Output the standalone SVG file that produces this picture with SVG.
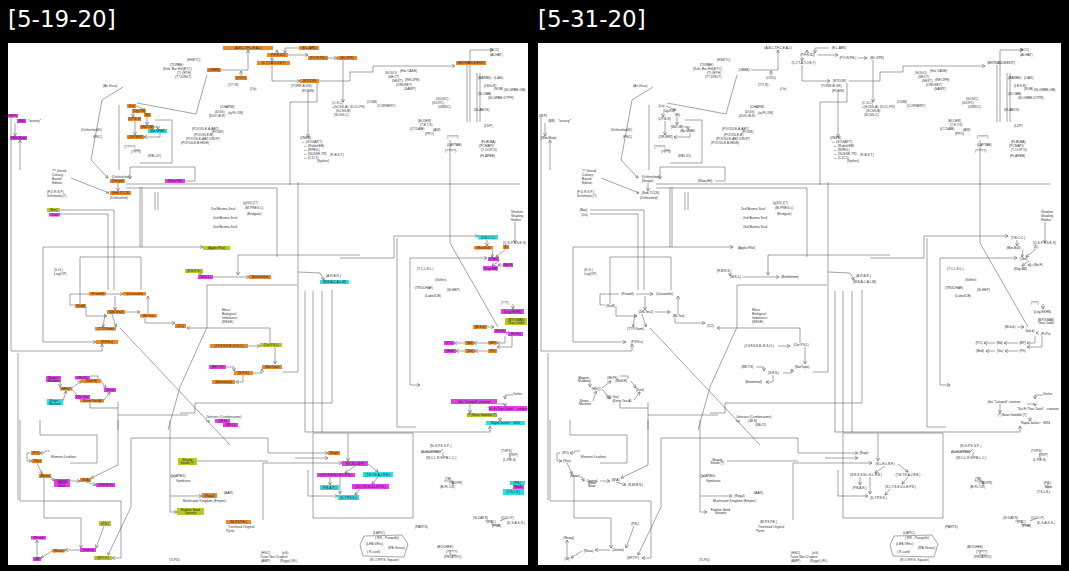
<svg xmlns="http://www.w3.org/2000/svg" xmlns:xlink="http://www.w3.org/1999/xlink" width="1069" height="571" viewBox="0 0 1069 571">
<style>
.ln{fill:none;stroke:#666;stroke-width:0.6}
.ar{marker-end:url(#ah)}
.t{font-family:"Liberation Sans",Arial,sans-serif;font-size:3.3px;fill:#333}
.b{font-family:"Liberation Sans",Arial,sans-serif;font-size:3.2px;fill:#222;text-anchor:middle}
.ttl{font-family:"DejaVu Sans",sans-serif;font-size:23px;fill:#fff}
.o{fill:var(--o)}.m{fill:var(--m)}.c{fill:var(--c)}.y{fill:var(--y)}
.hl{--o:#E98A2C;--m:#E040E8;--c:#2FDDE3;--y:#B8C82A}
.pl{--o:transparent;--m:transparent;--c:transparent;--y:transparent}
</style>
<defs>
<marker id="ah" viewBox="0 0 6 6" refX="5.5" refY="3" markerWidth="3.5" markerHeight="3.5" markerUnits="userSpaceOnUse" orient="auto"><path d="M0,0 L6,3 L0,6" fill="none" stroke="#555" stroke-width="0.9"/></marker>
<g id="chart">
<g id="connectors">
<path class="ln ar" d="M248,70 V50"/>
<path class="ln" d="M221,70 H248"/>
<path class="ln ar" d="M241,76 V71"/>
<path class="ln ar" d="M277,53 V50"/>
<path class="ln ar" d="M272,57 V61"/>
<path class="ln ar" d="M288,55 H308"/>
<path class="ln ar" d="M328,58 H337"/>
<path class="ln ar" d="M299,48 H285 V53"/>
<path class="ln ar" d="M272,65 V81 H300"/>
<path class="ln ar" d="M319,81 H350 V72 H373 V66 H455"/>
<path class="ln" d="M317,83 V102 H290 V185"/>
<path class="ln ar" d="M308,90 V137"/>
<path class="ln ar" d="M343,60 V102"/>
<path class="ln ar" d="M470,122 V50 H493"/>
<path class="ln" d="M467,65 V122 M477,73 V122 M480,73 V122"/>
<path class="ln" d="M450,140 V243 L498,327"/>
<path class="ln ar" d="M123,87 L102,100 L91,160 L108,178"/>
<path class="ln" d="M137,103 L196,114 L207,75"/>
<path class="ln" d="M119,105 V170 M155,120 H172 V163 H140"/>
<path class="ln ar" d="M136,106 L146,110"/>
<path class="ln ar" d="M133,113 V117"/>
<path class="ln ar" d="M147,117 V125"/>
<path class="ln ar" d="M154,127 H158 V129"/>
<path class="ln ar" d="M135,121 V135"/>
<path class="ln ar" d="M160,133 V137 H144"/>
<path class="ln" d="M11,117 V351 H102"/>
<path class="ln ar" d="M102,351 V344"/>
<path class="ln ar" d="M20,170 V140"/>
<path class="ln ar" d="M15,123 V136"/>
<path class="ln" d="M18,353 V500"/>
<path class="ln" d="M126,184 H520"/>
<path class="ln" d="M126,188 H277 V257"/>
<path class="ln ar" d="M71,178 L109,193"/>
<path class="ln ar" d="M118,183 V191"/>
<path class="ln ar" d="M185,181 H195 V167 H130 V179"/>
<path class="ln" d="M140,187 V247 M142,187 V247"/>
<path class="ln" d="M155,192 V210 M158,192 V210"/>
<path class="ln" d="M60,210 H114 V290 M60,214 H108 V290"/>
<path class="ln ar" d="M43,247 H203"/>
<path class="ln ar" d="M43,247 V342 H96"/>
<path class="ln" d="M80,257 H141 V290"/>
<path class="ln" d="M80,257 V304"/>
<path class="ln" d="M298,182 V372 H283"/>
<path class="ln ar" d="M238,255 H360 M238,255 V275"/>
<path class="ln" d="M297,285 H207 V327 L180,387 L168,430"/>
<path class="ln" d="M120,328 L230,445"/>
<path class="ln ar" d="M305,291 V432 H490 V426"/>
<path class="ln" d="M313,291 V432 M322,291 V432"/>
<path class="ln" d="M332,290 V403 H195 V413 H180"/>
<path class="ln ar" d="M270,343 V328 H187"/>
<path class="ln ar" d="M248,346 H260"/>
<path class="ln ar" d="M275,347 V364"/>
<path class="ln ar" d="M226,367 H234 V371"/>
<path class="ln ar" d="M253,373 H262 V369"/>
<path class="ln ar" d="M243,375 V382 H236"/>
<path class="ln ar" d="M213,277 H249"/>
<path class="ln ar" d="M200,273 V276"/>
<path class="ln ar" d="M298,272 L320,273 L324,280"/>
<path class="ln ar" d="M340,258 H394 V236 H478"/>
<path class="ln" d="M397,238 V427 H416"/>
<path class="ln ar" d="M410,290 V258 H487"/>
<path class="ln ar" d="M410,290 V385 H420"/>
<path class="ln ar" d="M515,222 V243"/>
<path class="ln ar" d="M487,240 V246"/>
<path class="ln ar" d="M493,250 L492,257"/>
<path class="ln ar" d="M506,249 L496,257"/>
<path class="ln ar" d="M499,261 L492,266"/>
<path class="ln ar" d="M503,265 H498"/>
<path class="ln ar" d="M513,304 V309"/>
<path class="ln ar" d="M487,327 H494"/>
<path class="ln ar" d="M508,333 H506"/>
<path class="ln ar" d="M512,336 V347 H497"/>
<path class="ln ar" d="M505,336 V343 H497"/>
<path class="ln ar" d="M488,343 H474"/>
<path class="ln ar" d="M465,343 H454"/>
<path class="ln ar" d="M488,351 H475"/>
<path class="ln ar" d="M465,351 H456"/>
<path class="ln ar" d="M513,395 H505 V399"/>
<path class="ln ar" d="M470,404 V413"/>
<path class="ln ar" d="M497,404 H505 V406"/>
<path class="ln ar" d="M500,417 V421"/>
<path class="ln" d="M89,294 H70 V305 H75"/>
<path class="ln ar" d="M106,294 H123"/>
<path class="ln ar" d="M115,296 V310"/>
<path class="ln ar" d="M86,306 V316 H107"/>
<path class="ln ar" d="M125,312 H140"/>
<path class="ln ar" d="M148,314 V296"/>
<path class="ln ar" d="M145,318 V323 H175"/>
<path class="ln ar" d="M105,314 L103,327"/>
<path class="ln ar" d="M112,314 L116,327"/>
<path class="ln" d="M118,402 V430 M118,415 H188"/>
<path class="ln ar" d="M60,379 V387"/>
<path class="ln ar" d="M63,401 L66,391"/>
<path class="ln ar" d="M72,388 L81,381"/>
<path class="ln ar" d="M72,389 L80,399"/>
<path class="ln ar" d="M101,381 L106,388"/>
<path class="ln ar" d="M104,400 L110,392"/>
<path class="ln" d="M90,376 H98 V379"/>
<path class="ln" d="M90,402 V408 H118"/>
<path class="ln" d="M40,420 V435 H97 V463 H70"/>
<path class="ln ar" d="M118,420 V465 L91,478"/>
<path class="ln ar" d="M20,420 V501 H121 V558 H112"/>
<path class="ln ar" d="M44,475 V518 H81 V548"/>
<path class="ln ar" d="M50,451 H45 L44,453 L40,453"/>
<path class="ln ar" d="M30,453 H27 V461 H32"/>
<path class="ln ar" d="M37,463 L42,474"/>
<path class="ln ar" d="M51,476 L54,481"/>
<path class="ln ar" d="M70,481 H80"/>
<path class="ln ar" d="M86,482 L96,485"/>
<path class="ln ar" d="M104,526 L96,548"/>
<path class="ln ar" d="M80,550 H65"/>
<path class="ln ar" d="M52,551 L41,558"/>
<path class="ln ar" d="M37,557 V540"/>
<path class="ln ar" d="M131,438 H268 V453 H328"/>
<path class="ln ar" d="M131,438 V507 L108,555"/>
<path class="ln ar" d="M263,520 V463 H342"/>
<path class="ln" d="M197,461 H268"/>
<path class="ln ar" d="M170,420 V512 H177"/>
<path class="ln ar" d="M170,476 H174"/>
<path class="ln ar" d="M170,496 H202"/>
<path class="ln" d="M313,433 H413 V518 H313 Z"/>
<path class="ln ar" d="M348,433 V461"/>
<path class="ln ar" d="M355,466 L345,473"/>
<path class="ln ar" d="M368,464 L378,472"/>
<path class="ln ar" d="M378,477 L372,484"/>
<path class="ln ar" d="M330,477 V485"/>
<path class="ln ar" d="M340,477 V494"/>
<path class="ln ar" d="M360,489 L355,495"/>
<path class="ln ar" d="M308,470 V496 H338"/>
<path class="ln ar" d="M295,458 H328"/>
<path class="ln" d="M421,452 H440 M440,452 L443,449 M443,452 V458"/>
<path class="ln" d="M510,453 V460 M444,481 L453,481 V486"/>
<path class="ln" d="M364,536 L360,545 L363,556 L404,557 L408,544 L402,535 Z"/>
<path class="ln" d="M485,521 H492 V525 H500 M500,521 L507,518"/>
<path class="ln" d="M450,550 V555 H456"/>
<path class="ln" d="M518,483 V489"/>
</g>
<g id="labels">
<text class="t" x="103" y="87">(Ax Virus)</text>
<text class="t" x="81" y="131">(Unfinished/D)</text>
<text class="t" x="93" y="138">(FNC)</text>
<text class="t" x="112" y="178">(Unfinished)</text>
<text class="t" x="110" y="199">(Unfinished)</text>
<text class="t" x="52" y="172">?? Jinsed</text>
<text class="t" x="52" y="176">Calvary</text>
<text class="t" x="52" y="180">Based</text>
<text class="t" x="52" y="184">Edition</text>
<text class="t" x="47" y="193">(F.D.R.S.P.)</text>
<text class="t" x="47" y="197">Schematic(?)</text>
<text class="t" x="28" y="122">*anxiety*</text>
<text class="t" x="211" y="210">2nd Bosma Seal</text>
<text class="t" x="213" y="219">2nd Bosma Seal</text>
<text class="t" x="213" y="228">2nd Bosma Seal</text>
<text class="t" x="243" y="204">(g)V(C)(?)</text>
<text class="t" x="245" y="209">(M-PREG-L)</text>
<text class="t" x="247" y="215">(Endgate)</text>
<text class="t" x="54" y="271">(S.G.)</text>
<text class="t" x="54" y="275">Log(OP)</text>
<text class="t" x="222" y="311">Moco</text>
<text class="t" x="222" y="315">Biological</text>
<text class="t" x="222" y="319">Imbalance</text>
<text class="t" x="222" y="323">(REDE)</text>
<text class="t" x="417" y="270">(T.C.L.E.L.)</text>
<text class="t" x="435" y="281">(Volfen)</text>
<text class="t" x="415" y="289">(TRUCHAE)</text>
<text class="t" x="447" y="291">(SLEEP)</text>
<text class="t" x="425" y="297">(Labs4CB)</text>
<text class="t" x="511" y="213">Shadow</text>
<text class="t" x="511" y="217">Shading</text>
<text class="t" x="511" y="221">Harbor</text>
<text class="t" x="503" y="244">(Q.S.P.S.S.E.S)</text>
<text class="t" x="501" y="304">(???)</text>
<text class="t" x="51" y="458">Element Leathert</text>
<text class="t" x="174" y="477">(APBG)</text>
<text class="t" x="176" y="482">Symbiose</text>
<text class="t" x="224" y="494">(AAR)</text>
<text class="t" x="183" y="502">Mushroom Kingdom (Empire)</text>
<text class="t" x="228" y="528">Treehead Original</text>
<text class="t" x="226" y="532">Pyrite</text>
<text class="t" x="206" y="418">Johnson (Cumbersome)</text>
<text class="t" x="206" y="422">Lg</text>
<text class="t" x="513" y="395">Vorlex</text>
<text class="t" x="430" y="447">(N.G.P.S.S.P.-)</text>
<text class="t" x="421" y="453">(N-HOPPER)</text>
<text class="t" x="426" y="459">(W.C.L.R.S.P.B.L.C.)</text>
<text class="t" x="501" y="452">(TVPS)</text>
<text class="t" x="509" y="456">(TRP)</text>
<text class="t" x="503" y="461">(L.P.E.S)</text>
<text class="t" x="445" y="480">(TB)</text>
<text class="t" x="449" y="484">(TADPR)</text>
<text class="t" x="440" y="488">(B-FL-OZ)</text>
<text class="t" x="415" y="528">(PARTS)</text>
<text class="t" x="473" y="519">(SI.DAYS)</text>
<text class="t" x="501" y="519">(CCO-P)</text>
<text class="t" x="487" y="523">(C3C)</text>
<text class="t" x="492" y="527">(PGB)</text>
<text class="t" x="507" y="524">(D.S.A.S.S.)</text>
<text class="t" x="373" y="534">(LAPIC)</text>
<text class="t" x="375" y="539">( RR - Pasquille)</text>
<text class="t" x="366" y="545">(LEB-VEnc)</text>
<text class="t" x="388" y="549">(RB-Venus)</text>
<text class="t" x="367" y="553">( R-cord)</text>
<text class="t" x="370" y="561">(R.O.P.P.S. Square)</text>
<text class="t" x="437" y="548">(BOCHEE)</text>
<text class="t" x="446" y="553">(?????)</text>
<text class="t" x="444" y="558">(PELATRO)</text>
<text class="t" x="261" y="554">(HSC)</text>
<text class="t" x="282" y="554">(eS)</text>
<text class="t" x="260" y="558">Tuum Non D'adore</text>
<text class="t" x="261" y="562">(AMP)</text>
<text class="t" x="280" y="562">(Ryjgs) (FL)</text>
<text class="t" x="169" y="561">(TLPD)</text>
<text class="t" x="187" y="61">(HSETC)</text>
<text class="t" x="170" y="66">(TURBE)</text>
<text class="t" x="163" y="70">(Keb, Bar Hit)(ETC)</text>
<text class="t" x="177" y="74">(T)·(ETH)</text>
<text class="t" x="175" y="78">(T?-DRUT)</text>
<text class="t" x="220" y="108">(CHARM)</text>
<text class="t" x="215" y="113">(DUG)</text>
<text class="t" x="228" y="114">(iq FLOW)</text>
<text class="t" x="209" y="117">(DUO-B-R)</text>
<text class="t" x="192" y="130">(POODLE-A-ABT)</text>
<text class="t" x="212" y="133">(FOUR)</text>
<text class="t" x="194" y="136">(POODLE-B)</text>
<text class="t" x="186" y="140">(POODLE-AB2-DROP)</text>
<text class="t" x="181" y="144">(POODLE-B-HIDE)</text>
<text class="t" x="291" y="87">(TORR-B-GS)</text>
<text class="t" x="302" y="92">(FOSW)</text>
<text class="t" x="300" y="139">(ZNEB)</text>
<text class="t" x="302" y="143">+- (VOGAP.T)</text>
<text class="t" x="304" y="147">+- (Rabid.EB)</text>
<text class="t" x="304" y="151">+- (RPEIL)</text>
<text class="t" x="304" y="155">+- (SUSSE.TR)</text>
<text class="t" x="304" y="159">+- (C1C1)</text>
<text class="t" x="317" y="162">(Spikes)</text>
<text class="t" x="330" y="156">(R.B.S.T)</text>
<text class="t" x="332" y="104">(C.S.C)</text>
<text class="t" x="332" y="108">+(SCSS-A)</text>
<text class="t" x="336" y="112">(SCSS-B)</text>
<text class="t" x="334" y="116">(SCSS-C)</text>
<text class="t" x="385" y="74">(SOUO)</text>
<text class="t" x="400" y="72">(Hat CASE)</text>
<text class="t" x="388" y="78">(SECT)</text>
<text class="t" x="392" y="82">(SEXT)</text>
<text class="t" x="405" y="81">(RECIPE)</text>
<text class="t" x="396" y="86">(ORUKEY)</text>
<text class="t" x="404" y="90">(SAWP)</text>
<text class="t" x="367" y="103">(OUM)</text>
<text class="t" x="377" y="107">(CORNERY)</text>
<text class="t" x="350" y="108">(DCC-PS)</text>
<text class="t" x="436" y="100">(GLIDC)</text>
<text class="t" x="432" y="104">(GLIPC)</text>
<text class="t" x="438" y="108">(GRIDC)</text>
<text class="t" x="418" y="122">(ELDER)</text>
<text class="t" x="420" y="126">(T.E.T.S)</text>
<text class="t" x="410" y="130">(LT-DAIB)</text>
<text class="t" x="433" y="131">(AW)</text>
<text class="t" x="425" y="135">(PPO)</text>
<text class="t" x="447" y="138">(?????)</text>
<text class="t" x="447" y="146">(LAPTAB)</text>
<text class="t" x="445" y="152">(?????)</text>
<text class="t" x="478" y="79">(BARBS)</text>
<text class="t" x="494" y="79">(LIAS)</text>
<text class="t" x="484" y="87">(LEG-R)</text>
<text class="t" x="494" y="90">(SUB)</text>
<text class="t" x="504" y="91">(SLGRBE-GB)</text>
<text class="t" x="478" y="95">(SLOBB)</text>
<text class="t" x="488" y="99">(SLGRBE-DTPR)</text>
<text class="t" x="474" y="111">(SLABOS)</text>
<text class="t" x="484" y="127">(LDP)</text>
<text class="t" x="481" y="143">(FLBLBA)</text>
<text class="t" x="479" y="147">(PCMAPI)</text>
<text class="t" x="481" y="151">(T-OOP-D)</text>
<text class="t" x="480" y="157">(FLAREB)</text>
<text class="t" x="490" y="51">(SCC)</text>
<text class="t" x="490" y="56">(ALHAT)</text>
<text class="t" x="250" y="90">(Ox)</text>
<text class="t" x="228" y="86">(T/T-R)</text>
<text class="t" x="124" y="148">(?????)</text>
<text class="t" x="131" y="153">(????)</text>
<text class="t" x="148" y="157">(RBI-JO)</text>
<text class="t" x="134" y="152">(??)</text>
<text class="t" x="326" y="277">(A.R.B.R.)</text>
</g>
<g id="nodes">
<g id="n1"><rect class="o" x="223" y="46" width="50" height="4"/><text class="b" x="248" y="49">(A,B,C,T,F,C,E,A,L)</text></g>
<g id="n2"><rect class="o" x="299" y="46" width="20" height="4"/><text class="b" x="309" y="49">(E.L-ARK)</text></g>
<g id="n3"><rect class="o" x="267" y="53" width="21" height="4"/><text class="b" x="277.5" y="56">(P.F.R-S2)</text></g>
<g id="n4"><rect class="o" x="257" y="61" width="33" height="4"/><text class="b" x="273.5" y="64">(C,T,T,A,T,O,E,T)</text></g>
<g id="n5"><rect class="o" x="308" y="56" width="20" height="4"/><text class="b" x="318" y="59">(P.O.R.P.E.)</text></g>
<g id="n6"><rect class="o" x="337" y="56" width="20" height="4"/><text class="b" x="347" y="59">(EL-VPS)</text></g>
<g id="n7"><rect class="o" x="207" y="68" width="14" height="4"/><text class="b" x="214" y="71">(OBEB)</text></g>
<g id="n8"><rect class="o" x="235" y="76" width="12" height="4"/><text class="b" x="241" y="79">(OOO)</text></g>
<g id="n9"><rect class="o" x="300" y="79" width="19" height="4"/><text class="b" x="309.5" y="82">(STOOR)</text></g>
<g id="n10"><rect class="o" x="456" y="61" width="30" height="4"/><text class="b" x="471" y="64">(ENTRANCE/EXIT)</text></g>
<g id="n11"><rect class="o" x="127" y="104" width="9" height="4"/><text class="b" x="131.5" y="107">(Lis)</text></g>
<g id="n12"><rect class="o" x="132" y="109" width="14" height="4"/><text class="b" x="139" y="112">(Ug-RS)</text></g>
<g id="n13"><rect class="o" x="144" y="113" width="7" height="4"/><text class="b" x="147.5" y="116">(Bi)</text></g>
<g id="n14"><rect class="o" x="128" y="117" width="13" height="4"/><text class="b" x="134.5" y="120">(LP-B-S)</text></g>
<g id="n15"><rect class="o" x="140" y="125" width="14" height="4"/><text class="b" x="147" y="128">(W4-OB)</text></g>
<g id="n16"><rect class="c" x="148" y="129" width="19" height="4"/><text class="b" x="157.5" y="132">(Ep-MNM)</text></g>
<g id="n17"><rect class="o" x="127" y="135" width="17" height="4"/><text class="b" x="135.5" y="138">(OR-WIR)</text></g>
<g id="n18"><rect class="m" x="8" y="114" width="10" height="3.5"/><text class="b" x="13" y="117">(W.P)</text></g>
<g id="n19"><rect class="m" x="17" y="119" width="9" height="4"/><text class="b" x="21.5" y="122">(BB)</text></g>
<g id="n20"><rect class="m" x="10" y="136" width="17" height="4"/><text class="b" x="18.5" y="139">(Wib-Mata)</text></g>
<g id="n21"><rect class="o" x="110" y="179" width="15" height="4"/><text class="b" x="117.5" y="182">(Gnupe)</text></g>
<g id="n22"><rect class="o" x="110" y="191" width="21" height="4"/><text class="b" x="120.5" y="194">(Seb-TCCS)</text></g>
<g id="n23"><rect class="m" x="165" y="179" width="20" height="4"/><text class="b" x="175" y="182">(Slow-Hill)</text></g>
<g id="n24"><rect class="y" x="47" y="208" width="13" height="4"/><text class="b" x="53.5" y="211">(Ban)</text></g>
<g id="n25"><rect class="m" x="49" y="213" width="11" height="3.5"/><text class="b" x="54.5" y="216">(Lis)</text></g>
<g id="n26"><rect class="y" x="203" y="246" width="27" height="4"/><text class="b" x="216.5" y="249">(Apple-Pilot)</text></g>
<g id="n27"><rect class="y" x="185" y="269" width="18" height="4"/><text class="b" x="194" y="272">(R.B.R.S.)</text></g>
<g id="n28"><rect class="m" x="198" y="275" width="15" height="4"/><text class="b" x="205.5" y="278">(M-K-L)</text></g>
<g id="n29"><rect class="o" x="249" y="275" width="22" height="4"/><text class="b" x="260" y="278">(Bethlehem)</text></g>
<g id="n30"><rect class="c" x="320" y="280" width="29" height="4"/><text class="b" x="334.5" y="283">(M.B.A.C.A.L.M)</text></g>
<g id="n31"><rect class="c" x="478" y="235" width="20" height="4.5"/><text class="b" x="488" y="238.5">(T.B.C.C.)</text></g>
<g id="n32"><rect class="o" x="474" y="246" width="19" height="3.5"/><text class="b" x="483.5" y="249">(Mor-Bull)</text></g>
<g id="n33"><rect class="o" x="503" y="245" width="6" height="4"/><text class="b" x="506" y="248">(D)</text></g>
<g id="n34"><rect class="m" x="488" y="257" width="11" height="4"/><text class="b" x="493.5" y="260">(Obs)</text></g>
<g id="n35"><rect class="m" x="483" y="266" width="15" height="4.5"/><text class="b" x="490.5" y="269.5">(Kap-BB)</text></g>
<g id="n36"><rect class="m" x="503" y="263" width="10" height="4"/><text class="b" x="508" y="266">(Ne-F)</text></g>
<g id="n37"><rect class="o" x="89" y="292" width="17" height="3.5"/><text class="b" x="97.5" y="295">(Prowell)</text></g>
<g id="n38"><rect class="o" x="123" y="292" width="23" height="3.5"/><text class="b" x="134.5" y="295">(Casseville)</text></g>
<g id="n39"><rect class="o" x="75" y="304" width="11" height="4"/><text class="b" x="80.5" y="307">(Kraff)</text></g>
<g id="n40"><rect class="o" x="107" y="310" width="18" height="4"/><text class="b" x="116" y="313">(DB-Yes2)</text></g>
<g id="n41"><rect class="o" x="140" y="314" width="17" height="3.5"/><text class="b" x="148.5" y="317">(Mi-Yes)</text></g>
<g id="n42"><rect class="o" x="175" y="324" width="11" height="4"/><text class="b" x="180.5" y="327">(CC)</text></g>
<g id="n43"><rect class="o" x="95" y="327" width="21" height="3.5"/><text class="b" x="105.5" y="330">(T.T.P.Gam)</text></g>
<g id="n44"><rect class="o" x="96" y="340" width="22" height="4"/><text class="b" x="107" y="343">(P.F.R.s)</text></g>
<g id="n45"><rect class="m" x="46" y="376" width="15" height="6"/><text class="b" x="53.5" y="378.8">Magnet</text><text class="b" x="53.5" y="381.5">Shadow</text></g>
<g id="n46"><rect class="o" x="60" y="387" width="12" height="3.5"/><text class="b" x="66" y="390">(HSQ)</text></g>
<g id="n47"><rect class="m" x="75" y="376" width="15" height="3.5"/><text class="b" x="82.5" y="379">(Mt.Pk)</text></g>
<g id="n48"><rect class="o" x="81" y="379" width="20" height="4"/><text class="b" x="91" y="382">(Wolf.H)</text></g>
<g id="n49"><rect class="m" x="104" y="388" width="12" height="4"/><text class="b" x="110" y="391">(Dott)</text></g>
<g id="n50"><rect class="c" x="47" y="399" width="16" height="6"/><text class="b" x="55" y="401.8">Shoes -</text><text class="b" x="55" y="404.5">Machine</text></g>
<g id="n51"><rect class="m" x="75" y="395" width="15" height="4"/><text class="b" x="82.5" y="398">(Dk-Yes)</text></g>
<g id="n52"><rect class="o" x="80" y="399" width="24" height="3.5"/><text class="b" x="92" y="402">(Kenn-Yes-A)</text></g>
<g id="n53"><rect class="o" x="210" y="344" width="38" height="4"/><text class="b" x="229" y="347">(J.V.F.S.K.B.-R.S.O.)</text></g>
<g id="n54"><rect class="y" x="260" y="343" width="22" height="4"/><text class="b" x="271" y="346">(Cor.P.V.L)</text></g>
<g id="n55"><rect class="m" x="209" y="365" width="17" height="4"/><text class="b" x="217.5" y="368">(BE.T.S)</text></g>
<g id="n56"><rect class="o" x="234" y="371" width="19" height="4"/><text class="b" x="243.5" y="374">(S.R.S.)</text></g>
<g id="n57"><rect class="o" x="262" y="365" width="20" height="4"/><text class="b" x="272" y="368">(SonTopa)</text></g>
<g id="n58"><rect class="o" x="212" y="380" width="23" height="4"/><text class="b" x="223.5" y="383">(Bonemeal)</text></g>
<g id="n59"><rect class="m" x="215" y="419" width="15" height="4"/><text class="b" x="222.5" y="422">(JB.S)</text></g>
<g id="n60"><rect class="m" x="223" y="423" width="15" height="4"/><text class="b" x="230.5" y="426">(SB.CI)</text></g>
<g id="n61"><rect class="m" x="501" y="309" width="23" height="5"/><text class="b" x="512.5" y="312.5">(Leg-RKHS)</text></g>
<g id="n62"><rect class="y" x="505" y="318" width="22" height="7"/><text class="b" x="516" y="321">(MTG BAS)</text><text class="b" x="516" y="324.3">Thar-Oodle</text></g>
<g id="n63"><rect class="o" x="473" y="325" width="14" height="4"/><text class="b" x="480" y="328">(Bl-b.b)</text></g>
<g id="n64"><rect class="m" x="494" y="329" width="12" height="4"/><text class="b" x="500" y="332">(b.b.b)</text></g>
<g id="n65"><rect class="m" x="508" y="332" width="15" height="4"/><text class="b" x="515.5" y="335">(Pi-Ps)</text></g>
<g id="n66"><rect class="m" x="444" y="341" width="10" height="4"/><text class="b" x="449" y="344">(P.C)</text></g>
<g id="n67"><rect class="o" x="465" y="341" width="9" height="4"/><text class="b" x="469.5" y="344">(Bd)</text></g>
<g id="n68"><rect class="o" x="488" y="341" width="9" height="3.5"/><text class="b" x="492.5" y="344">(BP)</text></g>
<g id="n69"><rect class="m" x="444" y="349" width="12" height="4"/><text class="b" x="450" y="352">(Bird)</text></g>
<g id="n70"><rect class="o" x="465" y="349" width="10" height="4"/><text class="b" x="470" y="352">(Ga)</text></g>
<g id="n71"><rect class="o" x="488" y="349" width="9" height="4"/><text class="b" x="492.5" y="352">(Ph)</text></g>
<g id="n72"><rect class="m" x="451" y="399" width="46" height="5"/><text class="b" x="474" y="402.5">(the "Catapult" creature</text></g>
<g id="n73"><rect class="m" x="489" y="406" width="38" height="5"/><text class="b" x="508" y="409.5">"Sci-Fi Thar Catch" - creature</text></g>
<g id="n74"><rect class="y" x="467" y="413" width="30" height="4"/><text class="b" x="482" y="416">(?) Beav Gamble (?)</text></g>
<g id="n75"><rect class="c" x="486" y="421" width="39" height="4"/><text class="b" x="505.5" y="424">Rapid Jacket ~ 3094</text></g>
<g id="n76"><rect class="o" x="31" y="451" width="9" height="4"/><text class="b" x="35.5" y="454">(PO)</text></g>
<g id="n77"><rect class="o" x="32" y="459" width="10" height="4"/><text class="b" x="37" y="462">(Rac)</text></g>
<g id="n78"><rect class="o" x="39" y="474" width="12" height="4"/><text class="b" x="45" y="477">(Muse)</text></g>
<g id="n79"><rect class="m" x="54" y="479" width="16" height="8"/><text class="b" x="62" y="481.8">Original</text><text class="b" x="62" y="484.3">Blood</text><text class="b" x="62" y="486.8">Base</text></g>
<g id="n80"><rect class="o" x="80" y="478" width="11" height="4"/><text class="b" x="85.5" y="481">(W.A)</text></g>
<g id="n81"><rect class="m" x="96" y="483" width="19" height="4"/><text class="b" x="105.5" y="486">(S.M.M.S.)</text></g>
<g id="n82"><rect class="y" x="178" y="458" width="19" height="7"/><text class="b" x="187.5" y="461">Beauty</text><text class="b" x="187.5" y="464.3">Seeds (?)</text></g>
<g id="n83"><rect class="o" x="202" y="493" width="15" height="5"/><text class="b" x="209.5" y="496.5">(Royal)</text></g>
<g id="n84"><rect class="y" x="177" y="508" width="27" height="7"/><text class="b" x="190.5" y="511">Feather Seed</text><text class="b" x="190.5" y="514.3">Variants</text></g>
<g id="n85"><rect class="o" x="226" y="520" width="25" height="4"/><text class="b" x="238.5" y="523">(M.P.S.P.E.)</text></g>
<g id="n86"><rect class="y" x="99" y="521" width="12" height="5"/><text class="b" x="105" y="524.5">(P.S.)</text></g>
<g id="n87"><rect class="o" x="52" y="549" width="13" height="3.5"/><text class="b" x="58.5" y="552">(Rosa)</text></g>
<g id="n88"><rect class="m" x="80" y="548" width="16" height="4"/><text class="b" x="88" y="551">(Jennie)</text></g>
<g id="n89"><rect class="y" x="94" y="556" width="18" height="4"/><text class="b" x="103" y="559">(SP.T.P.)</text></g>
<g id="n90"><rect class="m" x="31" y="536" width="15" height="3.5"/><text class="b" x="38.5" y="539">(Sharp)</text></g>
<g id="n91"><rect class="m" x="33" y="557" width="8" height="4"/><text class="b" x="37" y="560">(M)</text></g>
<g id="n92"><rect class="o" x="328" y="451" width="12" height="4"/><text class="b" x="334" y="454">(Rapt)</text></g>
<g id="n93"><rect class="m" x="342" y="461" width="26" height="5"/><text class="b" x="355" y="464.5">(S.L.E.L.R.F.)</text></g>
<g id="n94"><rect class="m" x="317" y="473" width="38" height="4"/><text class="b" x="336" y="476">(S.R.S.S.N.L.S.L.R.E.)</text></g>
<g id="n95"><rect class="c" x="363" y="472" width="30" height="5"/><text class="b" x="378" y="475.5">(T.E.T.S.A.J.R.E.)</text></g>
<g id="n96"><rect class="c" x="320" y="485" width="19" height="5"/><text class="b" x="329.5" y="488.5">(P.B.A.R.)</text></g>
<g id="n97"><rect class="m" x="352" y="484" width="37" height="5"/><text class="b" x="370.5" y="487.5">(S.L.T.S.S.U.L.E.P.S.)</text></g>
<g id="n98"><rect class="c" x="338" y="495" width="21" height="5"/><text class="b" x="348.5" y="498.5">(D.T.P.S.S.)</text></g>
<g id="n99"><rect class="c" x="510" y="481" width="15" height="4"/><text class="b" x="517.5" y="484">(P.B.)</text></g>
<g id="n100"><rect class="m" x="513" y="485" width="11" height="4"/><text class="b" x="518.5" y="488">Book</text></g>
<g id="n101"><rect class="c" x="503" y="489" width="21" height="6"/><text class="b" x="513.5" y="493">(T.S.L.S.)</text></g>
</g>
</g>
</defs>
<rect x="0" y="0" width="1069" height="571" fill="#000"/>
<text class="ttl" x="8" y="27">[5-19-20]</text>
<text class="ttl" x="538" y="27">[5-31-20]</text>
<rect x="8" y="43" width="520" height="522" fill="#fff"/>
<rect x="538" y="43" width="523" height="522" fill="#fff"/>
<g id="panel-left" class="hl"><use href="#chart"/></g>
<g id="panel-right" class="pl"><use href="#chart" x="530"/></g>
</svg>
